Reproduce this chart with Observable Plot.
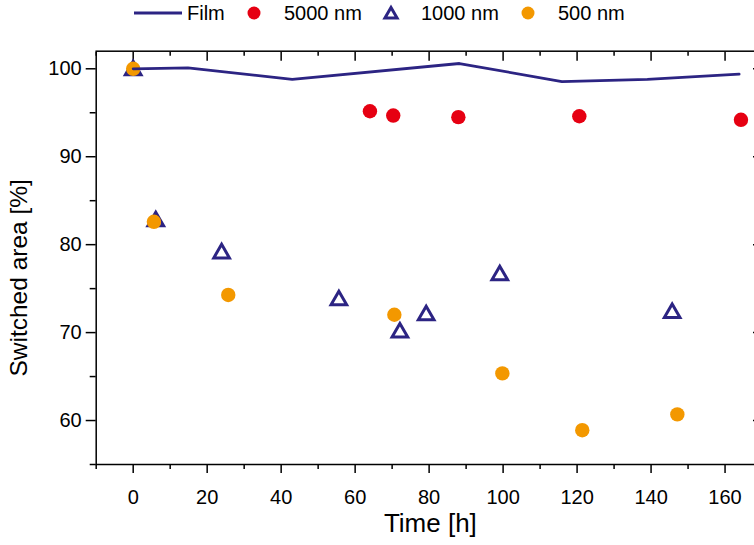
<!DOCTYPE html>
<html><head><meta charset="utf-8">
<script src="https://cdn.jsdelivr.net/npm/d3@7"></script>
<script src="https://cdn.jsdelivr.net/npm/@observablehq/plot@0.6"></script>
<style>
html,body{margin:0;padding:0;background:#fff;overflow:hidden;}
#legend{display:block;}
#chart svg{display:block;}
</style></head><body>
<svg id="legend" width="754" height="30"></svg>
<div id="chart"></div>
<script>
// ---- data ----
const filmTime = [0, 14.8, 43.0, 88.2, 115.9, 139, 163.8];
const filmArea = [100, 100.1, 98.8, 100.6, 98.55, 98.8, 99.4];

const nm5000Time = [64.0, 70.3, 87.9, 120.6, 164.3];
const nm5000Area = [95.17, 94.68, 94.5, 94.6, 94.2];

const nm1000Time = [0, 6.1, 23.9, 55.6, 72.1, 79.2, 99.1, 145.7];
const nm1000Area = [100, 82.83, 79.18, 73.86, 70.18, 72.15, 76.7, 72.4];

const nm500Time = [0, 5.6, 25.7, 70.6, 99.8, 121.4, 147.1];
const nm500Area = [100, 82.6, 74.28, 72.03, 65.36, 58.9, 60.7];

const seriesNames = ["Film", "5000 nm", "1000 nm", "500 nm"];
const xMajorTicks = [0, 20, 40, 60, 80, 100, 120, 140, 160];
const xMinorTicks = [-10, 10, 30, 50, 70, 90, 110, 130, 150];
const yMajorTicks = [60, 70, 80, 90, 100];
const yMinorTicks = [55, 65, 75, 85, 95];
const xTitle = "Time [h]";
const yTitle = "Switched area [%]";

// ---- styles ----
const navy = "#2c2483", red = "#e60012", orange = "#f39800";
const font = "'Liberation Sans', Arial, sans-serif";

const zip = (t, v) => t.map((d, i) => ({t: d, v: v[i]}));
const film = zip(filmTime, filmArea);
const s5000 = zip(nm5000Time, nm5000Area);
const s1000 = zip(nm1000Time, nm1000Area);
const s500 = zip(nm500Time, nm500Area);

const triR = 5.8;
const blank = () => "";

const chart = Plot.plot({
  width: 754, height: 515,
  marginLeft: 95.7, marginRight: -2, marginTop: 20.7, marginBottom: 81,
  style: {fontFamily: font, fontSize: "20px", color: "#000", background: "transparent"},
  x: {domain: [-10, 168.5], label: null},
  y: {domain: [55, 102], label: null},
  marks: [
    Plot.frame({stroke: "#000", strokeWidth: 1.5}),
    Plot.axisX({ticks: xMajorTicks, tickSize: 9, tickPadding: 16, fontSize: 20, strokeWidth: 1.5, label: null}),
    Plot.axisX({ticks: xMinorTicks, tickSize: 5, strokeWidth: 1.5, tickFormat: blank, label: null}),
    Plot.axisX({anchor: "top", ticks: xMajorTicks, tickSize: 9, dy: 9, strokeWidth: 1.5, tickFormat: blank, label: null}),
    Plot.axisX({anchor: "top", ticks: xMinorTicks, tickSize: 4, dy: 4, strokeWidth: 1.5, tickFormat: blank, label: null}),
    Plot.axisY({ticks: yMajorTicks, tickSize: 10, tickPadding: 4.5, fontSize: 20, strokeWidth: 1.5, label: null}),
    Plot.axisY({ticks: yMinorTicks, tickSize: 6, strokeWidth: 1.5, tickFormat: blank, label: null}),
    Plot.axisY({anchor: "right", ticks: yMajorTicks, tickSize: 4, dx: -4, strokeWidth: 1.5, tickFormat: blank, label: null}),
    Plot.text([yTitle], {text: d => d, frameAnchor: "left", textAnchor: "middle", lineAnchor: "middle", rotate: -90, dx: -77, dy: 20, fontSize: 24.5}),
    Plot.text([xTitle], {text: d => d, frameAnchor: "bottom", textAnchor: "middle", lineAnchor: "middle", dx: 4, dy: 59, fontSize: 26}),
    Plot.dot(s5000, {x: "t", y: "v", r: 7.2, fill: red, stroke: "none"}),
    Plot.dot(s1000, {x: "t", y: "v", r: triR, symbol: "triangle", fill: "none", stroke: navy, strokeWidth: 3, dy: 1.5}),
    Plot.dot(s500, {x: "t", y: "v", r: 7.2, fill: orange, stroke: "none"}),
    Plot.line(film, {x: "t", y: "v", stroke: navy, strokeWidth: 2.8})
  ]
});
document.getElementById("chart").appendChild(chart);

// ---- legend ----
const lg = d3.select("#legend").style("font-family", font).style("font-size", "20px");
lg.append("line").attr("x1", 134).attr("x2", 182).attr("y1", 13).attr("y2", 13)
  .attr("stroke", navy).attr("stroke-width", 2.8);
lg.append("circle").attr("cx", 254).attr("cy", 13).attr("r", 6.5).attr("fill", red);
lg.append("path").attr("d", d3.symbol(d3.symbolTriangle2, Math.PI * triR * triR)())
  .attr("transform", "translate(391,14.5)").attr("fill", "none").attr("stroke", navy).attr("stroke-width", 3);
lg.append("circle").attr("cx", 528).attr("cy", 13).attr("r", 6.5).attr("fill", orange);
const textX = [187, 284, 421, 558];
seriesNames.forEach((n, i) => {
  lg.append("text").attr("x", textX[i]).attr("y", 20).attr("fill", "#000").text(n);
});
</script>
</body></html>
